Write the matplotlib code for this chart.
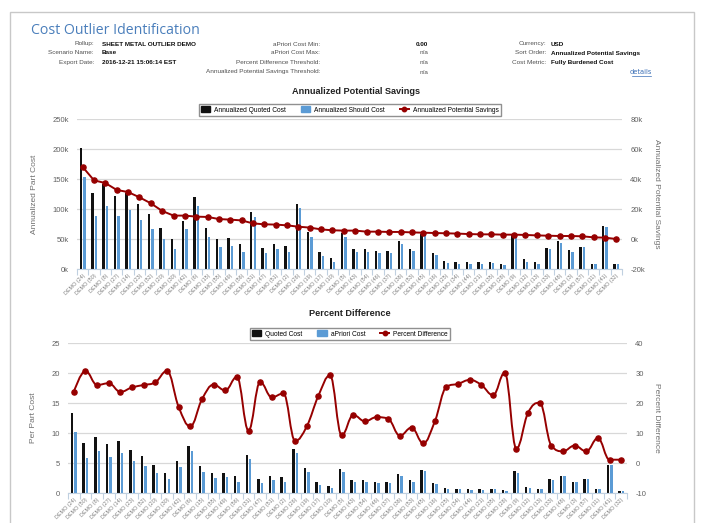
import matplotlib

matplotlib.use("Agg")
import matplotlib.pyplot as plt
from matplotlib.font_manager import FontProperties
from matplotlib.lines import Line2D
from matplotlib.patches import Patch, PathPatch, Rectangle
from matplotlib.path import Path
from matplotlib.ticker import FuncFormatter, MultipleLocator

# ------------------------------------------------------------------ dados
parts = [
    "DEMO (24)", "DEMO (50)", "DEMO (8)", "DEMO (27)", "DEMO (14)", "DEMO (23)",
    "DEMO (52)", "DEMO (20)", "DEMO (30)", "DEMO (42)", "DEMO (6)", "DEMO (15)",
    "DEMO (55)", "DEMO (49)", "DEMO (56)", "DEMO (31)", "DEMO (47)", "DEMO (51)",
    "DEMO (2)", "DEMO (26)", "DEMO (19)", "DEMO (17)", "DEMO (10)", "DEMO (5)",
    "DEMO (43)", "DEMO (54)", "DEMO (46)", "DEMO (37)", "DEMO (38)", "DEMO (53)",
    "DEMO (45)", "DEMO (16)", "DEMO (25)", "DEMO (34)", "DEMO (44)", "DEMO (21)",
    "DEMO (35)", "DEMO (28)", "DEMO (9)", "DEMO (12)", "DEMO (13)", "DEMO (33)",
    "DEMO (48)", "DEMO (3)", "DEMO (57)", "DEMO (11)", "DEMO (41)", "DEMO (32)",
]

# valores anualizados (em milhares)
annual_quoted = [
    202, 127, 142, 122, 126, 108, 92, 68, 50, 80, 120, 68, 50, 52, 42, 95,
    35, 42, 39, 109, 61, 28, 18, 60, 33, 33, 30, 30, 47, 34, 59, 26,
    14, 12, 11, 11, 12, 9, 58, 16, 11, 35, 46, 31, 36, 9, 71, 8,
]
annual_should = [
    153, 89, 105, 89, 99, 81, 67, 50, 34, 66, 105, 53, 36, 39, 29, 86,
    26, 33, 28, 102, 53, 21, 12, 54, 28, 29, 26, 26, 42, 30, 56, 23,
    10, 9, 8, 8, 10, 6, 53, 12, 9, 33, 43, 29, 36, 9, 70, 8,
]
annual_savings = [
    48, 39.1, 37.3, 32.7, 31.3, 27.8, 23.8, 18.7, 15.6, 15.6, 14.9, 14.7,
    13.3, 12.9, 12.4, 10.4, 9.8, 9.6, 9.1, 8.2, 7.6, 6.4, 5.8, 5.6,
    5.6, 4.9, 4.9, 4.7, 4.7, 4.4, 4.2, 4.0, 3.8, 3.6, 3.3, 3.1,
    3.1, 2.9, 2.9, 2.7, 2.4, 2.2, 2.0, 2.0, 1.8, 1.1, 0.9, 0.0,
]

# custo por peça
quoted_cost = [
    13.4, 8.4, 9.4, 8.1, 8.7, 7.2, 6.1, 4.6, 3.3, 5.4, 7.9, 4.5, 3.3, 3.4,
    2.8, 6.3, 2.3, 2.9, 2.6, 7.3, 4.1, 1.8, 1.2, 4.0, 2.1, 2.2, 1.9, 1.9,
    3.1, 2.2, 3.9, 1.7, 0.8, 0.7, 0.7, 0.7, 0.7, 0.5, 3.6, 1.0, 0.7, 2.3,
    2.9, 1.9, 2.3, 0.6, 4.6, 0.4,
]
apriori_cost = [
    10.2, 5.9, 7.0, 6.0, 6.6, 5.3, 4.5, 3.3, 2.3, 4.4, 7.0, 3.5, 2.5, 2.6,
    1.9, 5.6, 1.6, 2.2, 1.9, 6.7, 3.5, 1.4, 0.9, 3.5, 1.8, 1.9, 1.6, 1.7,
    2.8, 1.9, 3.7, 1.5, 0.7, 0.6, 0.5, 0.5, 0.6, 0.3, 3.4, 0.8, 0.6, 2.2,
    2.8, 1.8, 2.3, 0.6, 4.6, 0.4,
]
percent_diff = [
    23.7, 30.7, 26.0, 26.6, 23.7, 25.2, 26.0, 26.9, 30.7, 18.7, 12.2, 21.2,
    26.1, 24.2, 28.7, 10.8, 27.0, 21.9, 23.2, 7.4, 12.2, 22.4, 29.2, 9.2,
    16.0, 13.9, 15.3, 14.7, 9.1, 11.8, 6.6, 13.9, 25.4, 26.4, 27.7, 26.0,
    22.6, 30.1, 4.8, 16.7, 20.1, 5.8, 3.9, 5.8, 3.9, 8.3, 1.1, 1.1,
]

# ------------------------------------------------------------------ estilo
W, H = 704, 523
BLACK = "#111111"
BLUE = "#5b9bd5"
RED = "#960000"
GRID = "#d8d8d8"
AXIS = "#c0d0e0"
TICK = "#606060"
LABEL = "#707070"
MS = 3.7

plt.rcParams["font.family"] = ["Liberation Sans Narrow", "Liberation Sans", "DejaVu Sans"]


def fx(x):
    return x / W


def fy(y):
    return 1 - y / H


def spline_path(xs, ys, smoothing=1.5):
    """Curva suave no estilo 'spline' do Highcharts (Bezier cúbica)."""
    n = len(xs)
    left = [None] * n
    right = [None] * n
    denom = smoothing + 1
    for i in range(1, n - 1):
        x, y = xs[i], ys[i]
        lx, ly = xs[i - 1], ys[i - 1]
        nx, ny = xs[i + 1], ys[i + 1]
        lcx = (smoothing * x + lx) / denom
        lcy = (smoothing * y + ly) / denom
        rcx = (smoothing * x + nx) / denom
        rcy = (smoothing * y + ny) / denom
        if rcx != lcx:
            corr = (rcy - lcy) * (rcx - x) / (rcx - lcx) + y - rcy
            lcy += corr
            rcy += corr
        if lcy > ly and lcy > y:
            lcy = max(ly, y)
            rcy = 2 * y - lcy
        elif lcy < ly and lcy < y:
            lcy = min(ly, y)
            rcy = 2 * y - lcy
        if rcy > ny and rcy > y:
            rcy = max(ny, y)
            lcy = 2 * y - rcy
        elif rcy < ny and rcy < y:
            rcy = min(ny, y)
            lcy = 2 * y - rcy
        left[i] = (lcx, lcy)
        right[i] = (rcx, rcy)
    verts = [(xs[0], ys[0])]
    codes = [Path.MOVETO]
    for i in range(1, n):
        c1 = right[i - 1] or (xs[i - 1], ys[i - 1])
        c2 = left[i] or (xs[i], ys[i])
        verts += [c1, c2, (xs[i], ys[i])]
        codes += [Path.CURVE4] * 3
    return Path(verts, codes)


def style_axes(ax, ax2, left_lim, left_step, right_lim, right_step, fmt):
    n = len(parts)
    ax.set_xlim(-0.5, n - 0.5)
    ax.set_ylim(*left_lim)
    ax2.set_ylim(*right_lim)
    ax.yaxis.set_major_locator(MultipleLocator(left_step))
    ax2.yaxis.set_major_locator(MultipleLocator(right_step))
    ax.yaxis.set_major_formatter(FuncFormatter(fmt))
    ax2.yaxis.set_major_formatter(FuncFormatter(fmt))
    ax.grid(axis="y", color=GRID, lw=0.9)
    ax.set_axisbelow(True)
    for a in (ax, ax2):
        for s in ("top", "left", "right"):
            a.spines[s].set_visible(False)
        a.spines["bottom"].set_color(AXIS)
        a.tick_params(axis="y", length=0, labelsize=5.5, labelcolor=TICK, pad=6)
    ax2.spines["bottom"].set_visible(False)
    ax.set_xticks(list(range(n)))
    ax.set_xticklabels(parts, rotation=45, ha="right", rotation_mode="anchor",
                       fontsize=3.9, color="#808080")
    ax.set_xticks([i - 0.5 for i in range(n + 1)], minor=True)
    ax.tick_params(axis="x", which="major", length=0, pad=3)
    ax.tick_params(axis="x", which="minor", length=4, color=AXIS, width=0.8)


fig = plt.figure(figsize=(W / 100, H / 100), dpi=100)

# moldura da página
fig.patches.append(Rectangle((fx(10), fy(530)), fx(684), fy(12) - fy(530),
                             transform=fig.transFigure, fill=False,
                             edgecolor="#c8c8c8", lw=1))

# ------------------------------------------------------------------ cabeçalho
fig.text(fx(31), fy(30), "Cost Outlier Identification", fontsize=10.2,
         color="#4a7ebb", family=["Open Sans", "DejaVu Sans"], va="center")

meta_kw = dict(fontsize=4.6, color="#505050", va="center")
val_kw = dict(fontsize=4.6, color="#111111", va="center", weight="bold")
rows = [44, 53, 62, 72]
for y, lab, val in zip(rows, ["Rollup:", "Scenario Name:", "Export Date:"],
                       ["SHEET METAL OUTLIER DEMO", "Base", "2016-12-21 15:06:14 EST"]):
    fig.text(fx(94), fy(y), lab, ha="right", **meta_kw)
    fig.text(fx(102), fy(y), val, ha="left", **val_kw)
for y, lab, val in zip(rows, ["aPriori Cost Min:", "aPriori Cost Max:",
                              "Percent Difference Threshold:",
                              "Annualized Potential Savings Threshold:"],
                       ["0.00", "n/a", "n/a", "n/a"]):
    fig.text(fx(320), fy(y), lab, ha="right", **meta_kw)
    if val == "0.00":
        fig.text(fx(428), fy(y), val, ha="right", **val_kw)
    else:
        fig.text(fx(428), fy(y), val, ha="right", **meta_kw)
for y, lab, val in zip(rows, ["Currency:", "Sort Order:", "Cost Metric:"],
                       ["USD", "Annualized Potential Savings", "Fully Burdened Cost"]):
    fig.text(fx(546), fy(y), lab, ha="right", **meta_kw)
    fig.text(fx(551), fy(y), val, ha="left", **val_kw)
fig.text(fx(641), fy(72), "details", ha="center", va="center", color="#3b6fb6",
         fontproperties=FontProperties(family=["Liberation Sans Narrow", "DejaVu Sans"],
                                       size=4.8))
fig.add_artist(Line2D([fx(632), fx(651)], [fy(76), fy(76)], color="#3b6fb6", lw=0.5))

BW = 0.21
OFF = 0.15

# ------------------------------------------------------------------ gráfico 1
ax1 = fig.add_axes([fx(77), fy(269), fx(545), (269 - 119) / H])
ax1b = ax1.twinx()
x = list(range(len(parts)))
ax1.bar([i - OFF for i in x], [v * 1000 for v in annual_quoted], BW, color=BLACK)
ax1.bar([i + OFF for i in x], [v * 1000 for v in annual_should], BW, color=BLUE)
ax1b.plot(x, [v * 1000 for v in annual_savings], color=RED, lw=1.4,
          marker="o", ms=MS)
style_axes(ax1, ax1b, (0, 250000), 50000, (-20000, 80000), 20000,
           lambda v, p: f"{v / 1000:.0f}k")
ax1.set_ylabel("Annualized Part Cost", fontsize=6, color=LABEL, labelpad=10)
ax1b.set_ylabel("Annualized Potential Savings", fontsize=6, color=LABEL,
                rotation=270, labelpad=11)

fig.text(fx(356), fy(92), "Annualized Potential Savings", ha="center", va="center",
         fontsize=6.6, weight="bold", color="#222222")
h1 = [Patch(color=BLACK), Patch(color=BLUE),
      Line2D([], [], color=RED, lw=1.4, marker="o", ms=3.2)]
fig.legend(h1, ["Annualized Quoted Cost", "Annualized Should Cost",
                "Annualized Potential Savings"],
           loc="center", bbox_to_anchor=(fx(350), fy(110)), ncol=3, fontsize=4.8,
           frameon=True, fancybox=False, edgecolor="#909090", framealpha=1,
           handlelength=1.4, handleheight=0.9, columnspacing=2.2, handletextpad=0.6,
           borderpad=0.35)

# ------------------------------------------------------------------ gráfico 2
ax2 = fig.add_axes([fx(68), fy(493), fx(559), (493 - 343) / H])
ax2b = ax2.twinx()
ax2.bar([i - OFF for i in x], quoted_cost, BW, color=BLACK)
ax2.bar([i + OFF for i in x], apriori_cost, BW, color=BLUE)
ax2b.add_patch(PathPatch(spline_path(x, percent_diff), facecolor="none",
                         edgecolor=RED, lw=1.4))
ax2b.plot(x, percent_diff, ls="none", color=RED, marker="o", ms=MS)
style_axes(ax2, ax2b, (0, 25), 5, (-10, 40), 10, lambda v, p: f"{v:.0f}")
ax2.set_ylabel("Per Part Cost", fontsize=6, color=LABEL, labelpad=10)
ax2b.set_ylabel("Percent Difference", fontsize=6, color=LABEL, rotation=270,
                labelpad=10)

fig.text(fx(350), fy(313), "Percent Difference", ha="center", va="center",
         fontsize=6.6, weight="bold", color="#222222")
h2 = [Patch(color=BLACK), Patch(color=BLUE),
      Line2D([], [], color=RED, lw=1.4, marker="o", ms=3.2)]
fig.legend(h2, ["Quoted Cost", "aPriori Cost", "Percent Difference"],
           loc="center", bbox_to_anchor=(fx(350), fy(334)), ncol=3, fontsize=4.8,
           frameon=True, fancybox=False, edgecolor="#909090", framealpha=1,
           handlelength=1.4, handleheight=0.9, columnspacing=2.2, handletextpad=0.6,
           borderpad=0.35)

fig.savefig("out.png", dpi=100)
